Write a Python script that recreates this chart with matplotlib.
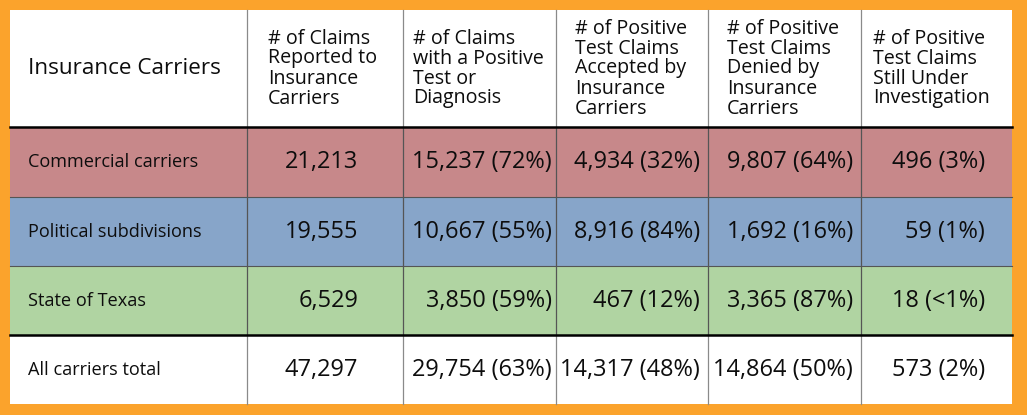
import matplotlib
matplotlib.use("Agg")
import matplotlib.pyplot as plt
from matplotlib.patches import Rectangle

plt.rcParams['font.family'] = ['Open Sans', 'DejaVu Sans']
plt.rcParams['font.weight'] = 'medium'

headers = ["Insurance Carriers",
           "# of Claims\nReported to\nInsurance\nCarriers",
           "# of Claims\nwith a Positive\nTest or\nDiagnosis",
           "# of Positive\nTest Claims\nAccepted by\nInsurance\nCarriers",
           "# of Positive\nTest Claims\nDenied by\nInsurance\nCarriers",
           "# of Positive\nTest Claims\nStill Under\nInvestigation"]
carriers = ["Commercial carriers", "Political subdivisions", "State of Texas", "All carriers total"]
reported = [21213, 19555, 6529, 47297]
positive = [15237, 10667, 3850, 29754]
positive_pct = ["72%", "55%", "59%", "63%"]
accepted = [4934, 8916, 467, 14317]
accepted_pct = ["32%", "84%", "12%", "48%"]
denied = [9807, 1692, 3365, 14864]
denied_pct = ["64%", "16%", "87%", "50%"]
pending = [496, 59, 18, 573]
pending_pct = ["3%", "1%", "<1%", "2%"]
row_colors = ["#c7888a", "#87a5c9", "#b0d4a2", "#ffffff"]

W, H = 1027, 415
fig = plt.figure(figsize=(W / 100, H / 100), dpi=100)
fig.patch.set_facecolor("#fba32c")
ax = fig.add_axes([0, 0, 1, 1])
ax.set_xlim(0, W)
ax.set_ylim(H, 0)
ax.axis("off")

col_x = [10, 247, 403, 556, 708, 861, 1012]
row_y = [10, 127, 197, 266, 335, 404]
ink = "#0d0d0d"

# backgrounds
ax.add_patch(Rectangle((col_x[0], row_y[0]), col_x[-1] - col_x[0], row_y[1] - row_y[0], color="white", lw=0))
for i, c in enumerate(row_colors):
    ax.add_patch(Rectangle((col_x[0], row_y[i + 1]), col_x[-1] - col_x[0], row_y[i + 2] - row_y[i + 1], color=c, lw=0))

# grid lines
for x in col_x[1:-1]:
    ax.plot([x, x], [row_y[0], row_y[1]], color="#8a8a8a", lw=0.9)
    ax.plot([x, x], [row_y[1], row_y[4]], color="#555555", lw=0.9)
    ax.plot([x, x], [row_y[4], row_y[5]], color="#8a8a8a", lw=0.9)
for y in [row_y[2], row_y[3]]:
    ax.plot([col_x[0], col_x[-1]], [y, y], color="#555555", lw=0.8)
for y in [row_y[1], row_y[4]]:
    ax.plot([col_x[0], col_x[-1]], [y, y], color="#000000", lw=1.8)

# header
hy = (row_y[0] + row_y[1]) / 2
ax.text(28, hy, headers[0], fontsize=16.2, color=ink, ha="left", va="center")
pads = [21, 10, 19, 19, 12]
for j in range(1, 6):
    ax.text(col_x[j] + pads[j - 1], hy, headers[j], fontsize=14.1, color=ink,
            ha="left", va="center", linespacing=1.0)

# body
rights = [358, 552, 700, 853, 985]
for i in range(4):
    cy = (row_y[i + 1] + row_y[i + 2]) / 2
    ax.text(28, cy, carriers[i], fontsize=13.1, color=ink, ha="left", va="center")
    cells = [f"{reported[i]:,}",
             f"{positive[i]:,} ({positive_pct[i]})",
             f"{accepted[i]:,} ({accepted_pct[i]})",
             f"{denied[i]:,} ({denied_pct[i]})",
             f"{pending[i]:,} ({pending_pct[i]})"]
    for j, s in enumerate(cells):
        ax.text(rights[j], cy, s, fontsize=16.9, color=ink, ha="right", va="center")

fig.savefig("out.png", dpi=100, facecolor=fig.get_facecolor())
